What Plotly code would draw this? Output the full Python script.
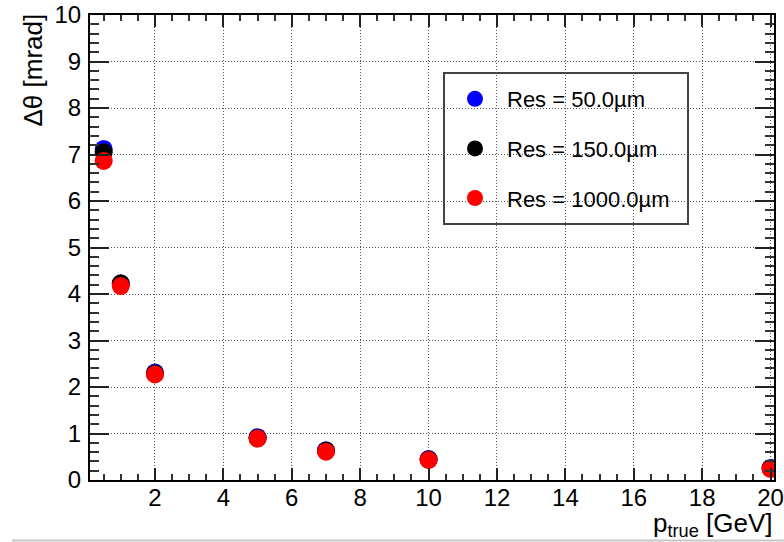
import plotly.graph_objects as go

# Data
p_true = [0.5, 1, 2, 5, 7, 10, 20]
res50 = [7.12, 4.22, 2.31, 0.92, 0.64, 0.45, 0.26]
res150 = [7.05, 4.23, 2.29, 0.90, 0.63, 0.44, 0.25]
res1000 = [6.86, 4.17, 2.27, 0.89, 0.61, 0.43, 0.24]
series_names = ["Res = 50.0µm", "Res = 150.0µm", "Res = 1000.0µm"]
series_values = [res50, res150, res1000]
colors = ["#0000ff", "#000000", "#ff0000"]
x_ticks = [2, 4, 6, 8, 10, 12, 14, 16, 18, 20]

W, H = 784, 542
ML, MR, MT, MB = 90, 10, 15, 62
PW, PH = W - ML - MR, H - MT - MB

def px2x(px):
    return (px - ML) / PW

def py2y(py):
    return (H - MB - py) / PH

FONT = "Liberation Sans, Arial, Helvetica, sans-serif"

fig = go.Figure()
for i, (name, vals, c) in enumerate(zip(series_names, series_values, colors)):
    fig.add_trace(go.Scatter(
        x=p_true, y=vals, mode="markers", name=name,
        legendgroup=f"g{i}",
        marker=dict(color=c, size=18, line=dict(width=0)),
    ))

axis_common = dict(
    showline=True, linecolor="black", linewidth=2, mirror="ticks",
    ticks="inside", tickcolor="#222", tickwidth=1.5,
    showgrid=True, gridcolor="#555", gridwidth=1, griddash="1px,2px",
    zeroline=False, automargin=False,
    tickfont=dict(family=FONT, size=24, color="black"),
)

fig.update_xaxes(
    range=[0.1, 20.1], tickmode="array", tickvals=x_ticks,
    ticklen=12, ticklabelstandoff=-5,
    minor=dict(dtick=0.5, tick0=0, ticks="inside", ticklen=6, tickcolor="#333", tickwidth=1.5, showgrid=False),
    **axis_common,
)
fig.update_yaxes(
    range=[0, 10], dtick=1, ticklen=19, ticklabelstandoff=2,
    minor=dict(dtick=0.2, tick0=0, ticks="inside", ticklen=9, tickcolor="#333", tickwidth=1.5, showgrid=False),
    **axis_common,
)

# legend box
fig.add_shape(type="rect", xref="paper", yref="paper",
              x0=px2x(444), x1=px2x(688), y0=py2y(224), y1=py2y(73),
              line=dict(color="#444", width=2), fillcolor="white", layer="below")

# window bottom edge
fig.add_shape(type="line", xref="paper", yref="paper",
              x0=px2x(12), x1=px2x(784), y0=py2y(540.5), y1=py2y(540.5),
              line=dict(color="#c8c8c8", width=2))

fig.add_annotation(text="Δθ [mrad]", xref="paper", yref="paper",
                   x=px2x(32), y=py2y(12), xanchor="center", yanchor="top",
                   textangle=-90, showarrow=False,
                   font=dict(family=FONT, size=26, color="black"))
fig.add_annotation(text="p<sub>true</sub> [GeV]", xref="paper", yref="paper",
                   x=px2x(651), y=py2y(506), xanchor="left", yanchor="top",
                   showarrow=False,
                   font=dict(family=FONT, size=26, color="black"))

fig.update_layout(
    width=W, height=H,
    margin=dict(l=ML, r=MR, t=MT, b=MB),
    paper_bgcolor="white", plot_bgcolor="white",
    showlegend=True,
    legend=dict(
        x=px2x(443), y=py2y(78), xanchor="left", yanchor="top",
        bgcolor="rgba(0,0,0,0)", borderwidth=0,
        font=dict(family=FONT, size=22, color="black"),
        itemwidth=54, tracegroupgap=18, traceorder="grouped",
    ),
)

fig.write_html("out.html")
